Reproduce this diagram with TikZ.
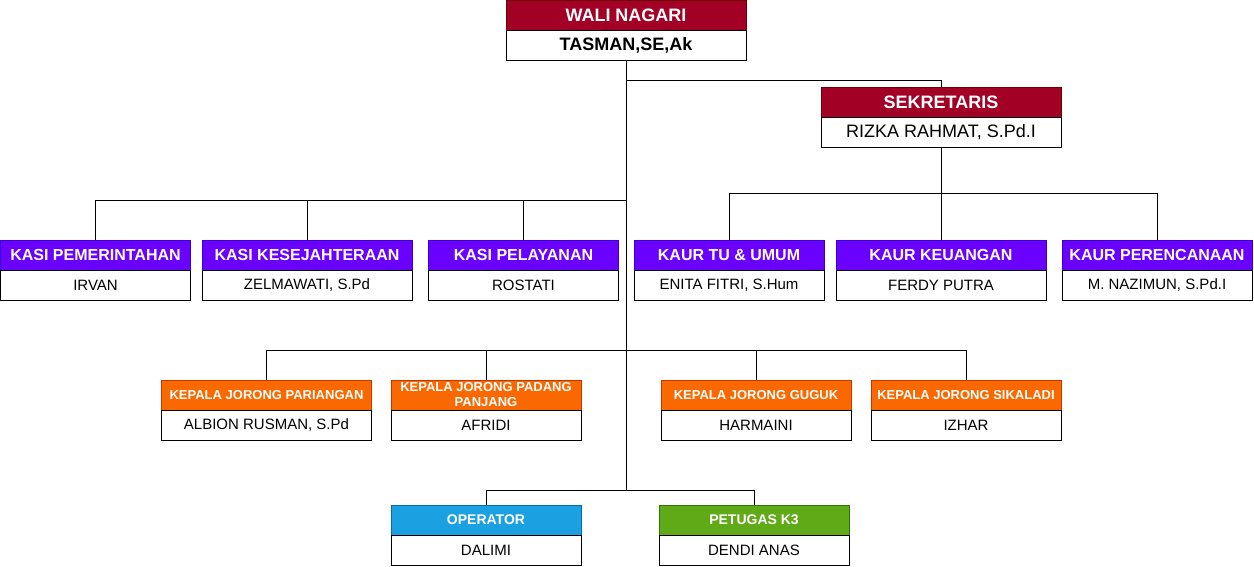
\documentclass[tikz,border=0pt]{standalone}
\usepackage{fontspec}
\setmainfont{Liberation Sans}
\definecolor{redF}{HTML}{A20025}\definecolor{redS}{HTML}{6F0000}
\definecolor{purF}{HTML}{6A00FF}\definecolor{purS}{HTML}{3700CC}
\definecolor{orgF}{HTML}{FA6800}\definecolor{orgS}{HTML}{C73500}
\definecolor{bluF}{HTML}{1BA1E2}\definecolor{bluS}{HTML}{006EAF}
\definecolor{grnF}{HTML}{60A917}\definecolor{grnS}{HTML}{2D7600}
\begin{document}
\begin{tikzpicture}[x=1pt,y=-1pt,
  box/.style={draw, minimum height=30pt, inner sep=0pt, line width=1pt, anchor=center},
  hdr/.style={box, text=white},
  bdy/.style={box, draw=black, fill=white, text=black},
  topH/.style={hdr, fill=redF, draw=redS, minimum width=240pt, font=\fontsize{18}{21}\selectfont\bfseries},
  topB/.style={bdy, minimum width=240pt, font=\fontsize{18}{21}\selectfont},
  purH/.style={hdr, fill=purF, draw=purS, font=\fontsize{16}{19}\selectfont\bfseries},
  orgH/.style={hdr, fill=orgF, draw=orgS, font=\fontsize{13}{15}\selectfont\bfseries, align=center},
  bluH/.style={hdr, fill=bluF, draw=bluS, font=\fontsize{14}{16}\selectfont\bfseries},
  grnH/.style={hdr, fill=grnF, draw=grnS, font=\fontsize{14}{16}\selectfont\bfseries},
  subB/.style={bdy, font=\fontsize{15}{18}\selectfont},
  conn/.style={draw=black, line width=1pt}]
\useasboundingbox (0,0) rectangle (1254,566);
% top
\node[topH] (walih) at (626,15.5) {WALI NAGARI};
\node[topB] (walib) at (626,45.5) {\bfseries TASMAN,SE,Ak};
\node[topH] (sekh) at (941,102) {SEKRETARIS};
\node[topB] (sekb) at (941,132) {RIZKA RAHMAT, S.Pd.I};
% row 2
\node[purH, minimum width=190pt] (k1h) at (95.5,255) {KASI PEMERINTAHAN};
\node[subB, minimum width=190pt] (k1b) at (95.5,285) {IRVAN};
\node[purH, minimum width=210pt] (k2h) at (307,255) {KASI KESEJAHTERAAN};
\node[subB, minimum width=210pt] (k2b) at (307,285) {ZELMAWATI, S.Pd};
\node[purH, minimum width=190pt] (k3h) at (523.5,255) {KASI PELAYANAN};
\node[subB, minimum width=190pt] (k3b) at (523.5,285) {ROSTATI};
\node[purH, minimum width=190pt] (u1h) at (729,255) {KAUR TU \& UMUM};
\node[subB, minimum width=190pt] (u1b) at (729,285) {ENITA FITRI, S.Hum};
\node[purH, minimum width=210pt] (u2h) at (941,255) {KAUR KEUANGAN};
\node[subB, minimum width=210pt] (u2b) at (941,285) {FERDY PUTRA};
\node[purH, minimum width=190pt] (u3h) at (1157,255) {KAUR PERENCANAAN};
\node[subB, minimum width=190pt] (u3b) at (1157,285) {M. NAZIMUN, S.Pd.I};
% row 3
\node[orgH, minimum width=210pt] (j1h) at (266.5,395) {KEPALA JORONG PARIANGAN};
\node[subB, minimum width=210pt] (j1b) at (266.5,425) {ALBION RUSMAN, S.Pd};
\node[orgH, minimum width=190pt] (j2h) at (486,395) {KEPALA JORONG PADANG\\PANJANG};
\node[subB, minimum width=190pt] (j2b) at (486,425) {AFRIDI};
\node[orgH, minimum width=190pt] (j3h) at (756,395) {KEPALA JORONG GUGUK};
\node[subB, minimum width=190pt] (j3b) at (756,425) {HARMAINI};
\node[orgH, minimum width=190pt] (j4h) at (966,395) {KEPALA JORONG SIKALADI};
\node[subB, minimum width=190pt] (j4b) at (966,425) {IZHAR};
% row 4
\node[bluH, minimum width=190pt] (oph) at (486,520) {OPERATOR};
\node[subB, minimum width=190pt] (opb) at (486,550) {DALIMI};
\node[grnH, minimum width=190pt] (pkh) at (754,520) {PETUGAS K3};
\node[subB, minimum width=190pt] (pkb) at (754,550) {DENDI ANAS};
% junctions
\coordinate (b1) at (626,80);
\coordinate (b2) at (626,200);
\coordinate (b3) at (941,193);
\coordinate (b4) at (626,350);
\coordinate (b5) at (626,490);
% connectors
\begin{scope}[on background layer/.style={}]
\path[conn] (walib.south) -- (b5);
\path[conn] (b1) -| (sekh.north);
\path[conn] (b2) -| (k1h.north);
\path[conn] (b2) -| (k2h.north);
\path[conn] (b2) -| (k3h.north);
\path[conn] (sekb.south) -- (u2h.north);
\path[conn] (b3) -| (u1h.north);
\path[conn] (b3) -| (u3h.north);
\path[conn] (b4) -| (j1h.north);
\path[conn] (b4) -| (j2h.north);
\path[conn] (b4) -| (j3h.north);
\path[conn] (b4) -| (j4h.north);
\path[conn] (b5) -| (oph.north);
\path[conn] (b5) -| (pkh.north);
\end{scope}
\end{tikzpicture}
\end{document}
